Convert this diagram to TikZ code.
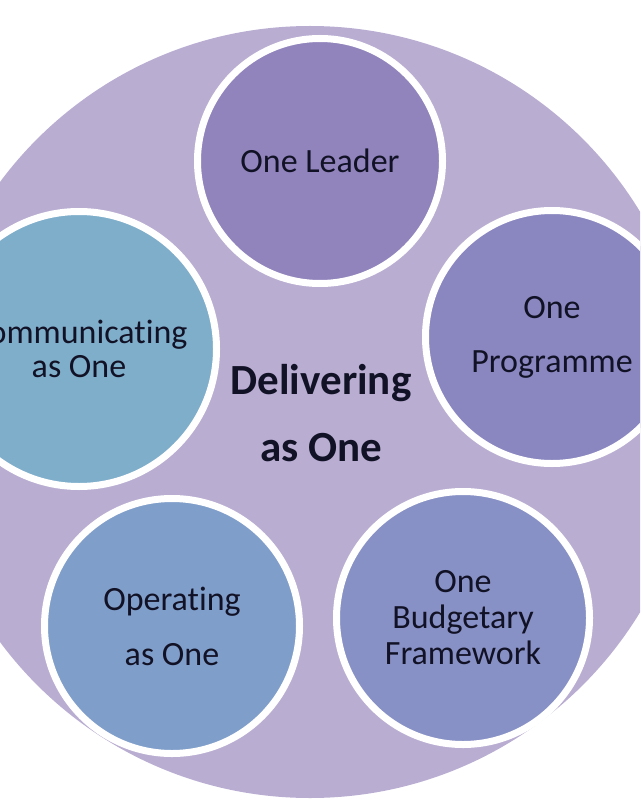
\documentclass[tikz,border=0pt]{standalone}
\usepackage{fontspec}
\setmainfont{Carlito}[Ligatures = NoCommon]
\usepackage{tikz}
\usetikzlibrary{positioning}

\definecolor{hubfill}{HTML}{B9ADD2}
\definecolor{leaderfill}{HTML}{9184BC}
\definecolor{commfill}{HTML}{7FAECB}
\definecolor{progfill}{HTML}{8A86C0}
\definecolor{operfill}{HTML}{809ECA}
\definecolor{budgetfill}{HTML}{8891C5}
\definecolor{ink}{HTML}{121226}

\begin{document}
\begin{tikzpicture}[
				x = 1pt, y = -1pt,
				every node/.style = {font = \fontsize{34}{36}\selectfont, text = ink, align = center},
				bubble/.style = {circle, draw = white, line width = 7pt, inner sep = 0pt}
			]

			\useasboundingbox (0,0) rectangle (640,810);
			\clip (0,0) rectangle (640,810);

			\node[circle, fill = hubfill, minimum size = 772pt, inner sep = 0pt] (hub) at (310,412) {};

			\node[bubble, fill = leaderfill, minimum size = 245pt] (leader) at (320,161) {One Leader};
			\node[bubble, fill = commfill, minimum size = 275pt] (comm) at (79,349) {Communicating\\[-2pt]as One};
			\node[bubble, fill = progfill, minimum size = 253pt] (prog) at (552,337) {One\\[18pt]Programme};
			\node[bubble, fill = operfill, minimum size = 255pt] (oper) at (172,626) {Operating\\[19pt]as One};
			\node[bubble, fill = budgetfill, minimum size = 253pt] (budget) at (463,618) {One\\Budgetary\\Framework};

			\node[font = \bfseries\fontsize{43}{67}\selectfont] (title) at (321,413) {Delivering\\as One};

			\end{tikzpicture}
\end{document}
